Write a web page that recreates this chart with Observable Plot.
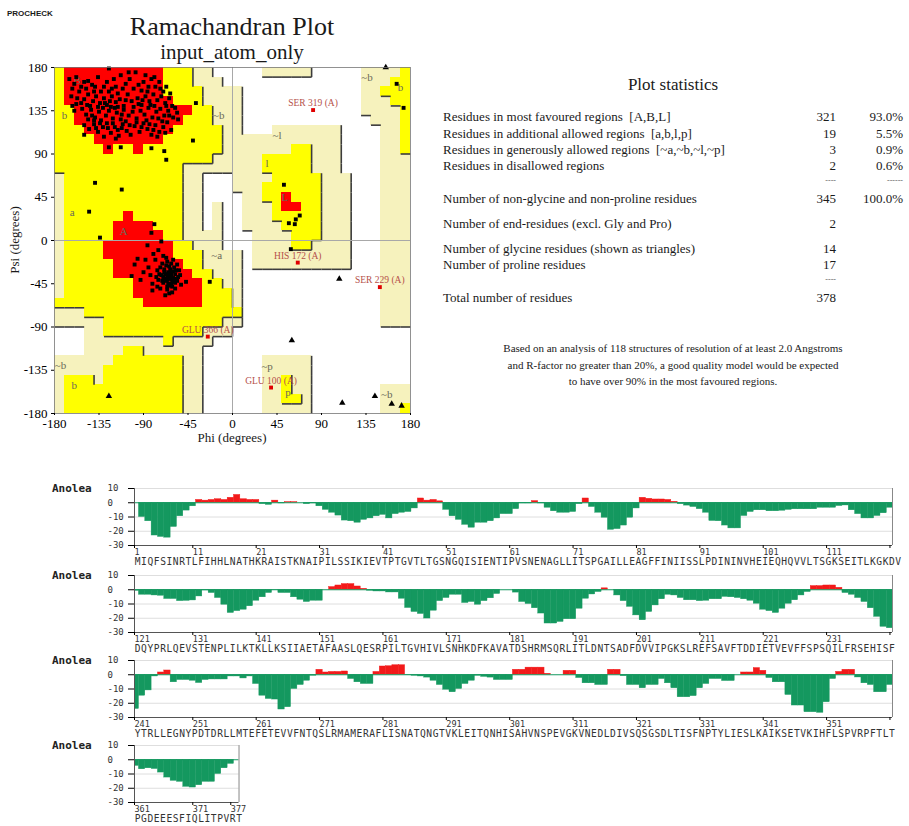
<!DOCTYPE html>
<html><head><meta charset="utf-8">
<script src="https://cdn.jsdelivr.net/npm/d3@7"></script>
<script src="https://cdn.jsdelivr.net/npm/@observablehq/plot@0.6"></script>
<style>
body{margin:0;background:#fff;}
#root{position:relative;width:909px;height:826px;overflow:hidden;background:#fff;}
.layer{position:absolute;}
</style></head><body><div id="root"></div>
<script>
// ---------------- Ramachandran data ----------------
// region grid: rows psi 170..180 (top) down to -180..-170, cols phi -180..170 (step 10)
// R core, Y allowed, P generously allowed, . disallowed
const ramaGrid = [
"YRRRRRRRRRRYYYPP.....PPPPP.....PPPPY",
"YRRRRRRRRRRYYYPPP..............PPPYY",
"YRRRRRRRRRRYYYYPPPP............PPYYY",
"YRRRRRRRRRRRYYYPPPP............PPPYY",
"YYRRRRRRRRRRRRYYPPP............PPPPY",
"YYRRRRRRRRRRRYYYPPP.............PPPY",
"YYYRRRRRRRRRYYYYYPP...PPPPPPP....PPY",
"YYYYRRRRRRRYYYYYYPPPPPPPPPPPP....PPY",
"YYYYYRYYRYYYYYYYYPPPPPPPYYPPP....PPY",
"YYYYYYYYYYYYYYYYPPPPPYYYYYPPP....PPP",
"YYYYYYYYYYYYYPPPPPPPPYYYYYPPP....PPP",
"PYYYYYYYYYYYYPP...PPPPYYYYYPPP...PPP",
"PYYYYYYYYYYYYPP...PPPYYYYYYPPP...PPP",
"PYYYYYYYYYYYYPP....PPYYRYYYPPP...PPP",
"PYYYYYYYYYYYYPP.P..PPPYRRYYPPP...PPP",
"PYYYYYYRYYYYYPP.P..PPPYYYYYPPP...PPP",
"PYYYYYRRRRYYYPP.P..PPPPYYYYPPP...PPP",
"PYYYYYRRRRRYYPPPP...PPPPYYYPPP...PPP",
"PYYYYRRRRRRRYYPPP...PPPPYYPPPP...PPP",
"PYYYYRRRRRRRYYYPPPP.PPPPPPPPPP...PPP",
"PYYYYYRRRRRRRYYPPPP.PPPPPPPPPP...PPP",
"PYYYYYRRRRRRRRYYPPP..............PPP",
"PYYYYYYYRRRRRRRYYPP..............PPP",
"PYYYYYYYRRRRRRRYYYP..............PPP",
"YYYYYYYYYRRRRRRYYYP..............PPP",
"PPPYYYYYYYYYYYYYYYY..............PPP",
"PPPPPYYYYYYYYYYYYPP..............PPP",
"...PPYYYYYYYYYYPPP..................",
"...PPPPPPPPYPPPP....................",
"...PPPPYYPPPPPP.....................",
"PPPPPPYYYYYYYPP......PPPPP..........",
"PPPPPYYYYYYYYPP......PPPPP..........",
"PYYYPYYYYYYYYPP......PPYPP..........",
"PYYYYYYYYYYYYPP......PPYPP.......PPP",
"PYYYYYYYYYYYYPP......PPYYP.......PPP",
"PYYYYYYYYYYYYPP......PPPPP.......PPY"
];
const regionColors = {R: "#ff0000", Y: "#ffff00", P: "#f6f2bd"};

// non-glycine residues [phi, psi]
const ramaResidues = [
[-165,168],[-160,163],[-158,170],[-150,165],[-148,158],[-142,162],[-136,170],[-130,160],[-125,155],[-120,168],
[-113,172],[-108,163],[-104,168],[-98,175],[-95,162],[-88,172],[-82,168],[-78,160],[-74,165],[-92,156],
[-100,158],[-118,160],[-140,155],[-155,155],
[-163,150],[-157,148],[-150,147],[-146,152],[-141,145],[-138,150],[-134,143],[-130,148],[-127,141],[-122,150],
[-118,144],[-114,147],[-110,140],[-106,152],[-102,145],[-96,148],[-92,141],[-88,150],[-84,145],[-80,152],
[-76,146],[-72,150],[-68,143],[-64,148],[-61,140],[-70,155],[-86,155],[-108,146],[-124,145],[-144,140],
[-160,135],[-152,137],[-148,131],[-143,136],[-139,128],[-135,134],[-131,138],[-128,130],[-125,135],[-121,127],
[-117,133],[-113,126],[-110,136],[-105,130],[-101,134],[-97,127],[-93,135],[-89,131],[-85,138],[-81,128],
[-77,134],[-73,137],[-69,130],[-65,135],[-60,128],[-56,133],[-133,125],[-119,138],[-140,125],[-87,125],
[-150,120],[-145,116],[-140,121],[-136,113],[-131,118],[-127,122],[-123,112],[-119,118],[-115,109],[-111,121],
[-107,114],[-103,110],[-99,119],[-94,113],[-90,122],[-86,116],[-82,110],[-78,120],[-74,113],[-70,118],
[-66,123],[-62,115],[-130,108],[-118,106],
[-162,158],[-153,160],[-146,166],[-139,160],[-133,155],[-127,165],[-122,158],[-116,153],[-111,158],[-105,175],
[-90,165],[-85,160],[-79,170],[-73,158],[-67,160],[-63,153],[-158,142],[-153,143],[-147,141],[-136,139],
[-129,143],[-123,139],[-116,139],[-112,131],[-108,124],[-100,139],[-95,142],[-91,146],[-83,141],[-79,140],
[-75,127],[-71,124],[-67,140],[-58,138],[-55,126],[-146,126],[-142,130],[-138,117],[-134,122],[-126,117],
[-121,122],[-116,115],[-112,117],[-104,120],[-97,123],[-92,118],[-84,121],[-80,115],[-76,108],[-68,112],
[-64,130],
[-82,8],[-79,17],[-72,-1],[-86,-5],[-80,-14],[-96,-19],[-102,-37],[-93,-41],[-81,-45],[-81,-52],
[-47,-43],[-61,-54],[-90,-33],[-76,-31],[-71,-24],[-66,-22],[-59,-28],[-54,-31],[-53,-36],[-56,-42],
[-63,-47],[-66,-48],[-75,-41],[-68,-35],[-66,-38],[-64,-40],[-62,-36],[-60,-39],[-65,-33],[-63,-30],
[-61,-43],[-67,-42],[-70,-38],[-58,-35],[-57,-40],[-62,-45],[-65,-45],[-69,-30],[-72,-36],[-60,-32],
[-64,-27],[-67,-26],[-58,-44],[-55,-38],[-61,-48],[-66,-51],[-70,-44],[-73,-28],[-62,-33],[-64,-35],
[-66,-41],[-59,-42],[-63,-38],[-65,-36],[-61,-40],[-68,-40],[-69,-33],[-57,-31],[-71,-42],[-74,-35],
[-77,-38],[-85,-28],[-88,-20],[-78,-20],[-70,-16],[-60,-20],[-56,-25],[-52,-46],[-58,-50],[-64,-55],
[-76,-48],[-83,-36],[-99,-25],[-73,-50],[-68,-57],[-62,-24],[-67,-18],[-75,-10],
[-125,179],[-162,140],[-150,110],[-37,143],[-40,104],[-125,97],[-113,97],[-82,96],[-69,93],[-67,84],
[-139,60],[-112,53],[-145,30],[-134,3],[-23,-43],[166,163],[173,138],[52,58],[68,26],[64,22],
[57,18],[63,17],[59,-9]
];
// glycine residues (triangles)
const ramaGlycines = [[155,180],[108,-40],[60,-104],[-125,-162],[111,-169],[144,-162],[161,-170],[171,-172]];
// flagged residues
const flaggedNames = ["SER 319 (A)","HIS 172 (A)","SER 229 (A)","GLU 366 (A)","GLU 100 (A)"];
const flaggedPhi = [81.5, 66, 149, -25, 39];
const flaggedPsi = [135.7, -23, -48.5, -100, -153];
// region letters
const regionLabelText = ["B","b","~b","~l","l","L","a","A","~a","~b","b","~p","p","~b","~b","b"];
const regionLabelPhi  = [-157,-170,-14,45,35,53,-162,-110,-16,-174,-160,35,56,156,136,170];
const regionLabelPsi  = [166,130,130,109,80,45,29,9,-16,-130,-151,-131,-158,-160,170,159];
const ramaTicks = [-180,-135,-90,-45,0,45,90,135,180];

// ---------------- Statistics ----------------
const statLabels = [
"Residues in most favoured regions  [A,B,L]",
"Residues in additional allowed regions  [a,b,l,p]",
"Residues in generously allowed regions  [~a,~b,~l,~p]",
"Residues in disallowed regions",
"",
"Number of non-glycine and non-proline residues",
"Number of end-residues (excl. Gly and Pro)",
"Number of glycine residues (shown as triangles)",
"Number of proline residues",
"",
"Total number of residues"];
const statCounts = ["321","19","3","2","----","345","2","14","17","----","378"];
const statPercents = ["93.0%","5.5%","0.9%","0.6%","------","100.0%","","","","",""];
const footnote = [
"Based on an analysis of 118 structures of resolution of at least 2.0 Angstroms",
"and R-factor no greater than 20%, a good quality model would be expected",
"to have over 90% in the most favoured regions."];

// ---------------- ANOLEA data ----------------
const anoleaRow1 = [0,0,-10,-13,-23,-24,-24.5,-17,-9.5,-5.5,-2.5,2,1.5,2,2.5,2,3.5,5.5,2.5,2,
2,-1,-1.5,1.5,-0.5,0.5,0.5,0,-1,-0.5,-2.5,-5,-7,-9,-12.5,-13,-14,-12,-11,-9.5,
-8.5,-11,-8,-7,-6.5,-4,3,1.5,2,1,-5,-9.5,-12,-15.5,-17.5,-14,-14,-13,-11,-8,
-8,-4.5,-0.5,-0.5,1.2,-0.5,-3.5,-6,-7,-7,-6.5,-1,3,-3,-7,-10.5,-19,-18.5,-16,-10.5,
-4,3.5,2.8,2.3,2.3,2,0.7,-1,-2,-3,-4.5,-7,-12.8,-13,-16,-18,-18,-9.3,-6.5,-5.3,
-5.3,-6,-6,-5.6,-5,-4.6,-4.6,-4.6,-4.6,-3.5,-3.5,-3.5,-2.3,-1.9,-5.3,-8,-11,-11,-9.3,-7.4];
const anoleaRow2 = [-3.5,-0.7,-3.5,-3.5,-4,-4.2,-6.5,-6.5,-8,-7.8,-7.5,-4.7,-0.5,-2.3,-5.8,-10.5,-16.3,-15,-14,-11.6,
-7.7,-5.3,-2.3,-0.3,-2.3,-2.3,-5.3,-7,-8.6,-7.7,-7.7,0,1.9,3,4,4,2.3,0.7,-0.7,-1.2,
-1.2,-1.9,-1.9,-6.3,-12.8,-15.6,-17,-20.2,-14.7,-8,-5.8,-3.5,-3.5,-9.3,-8.6,-10.5,-8,-6,-3,0,
0,-2,-8.6,-10,-13,-16.7,-23.7,-23.7,-22.6,-20.7,-20.7,-13.3,-6.3,-3.3,-1.6,1,0,-4,-8,-12,
-18,-21.4,-15.6,-11,-6.7,-3.5,-4,-5.8,-7.4,-7.4,-8,-7.7,-6.7,-6.7,-5,-5.3,-5.8,-6.7,-7.7,-9.8,
-14,-15,-16.3,-13.3,-9.8,-7.4,-4,-1.6,2.6,2.6,3,3,1.4,-2.3,-3.5,-5.8,-8.6,-13,-19,-26];
const anoleaRow3 = [-27,-24,-14.7,-11,-1.2,1.6,3,-5.3,-3.7,-3.7,-4.2,-5.8,-3.7,-3.3,-3.3,-3.3,-1.2,-1.2,-2.6,-1.2,
-6.5,-14.7,-17,-17.4,-24.4,-22.8,-10,-7.2,-4.2,-0.7,3.5,1.6,2,2,2.3,-3,-5.3,-6.5,-6.5,2,
5.8,6,6.7,6.7,-0.3,-0.7,-1.2,-2,-4.2,-7.2,-10.5,-12.3,-10,-6.5,-4.2,-0.7,-1.5,-2,-3.7,-3.7,
-3.7,3.5,3.5,5,5,5,0.7,0,0,2.8,2.8,-2.3,-6,-6,-7.2,-7.2,3.5,3.5,-1,-7.2,
-7.2,-9.5,-7.2,-7.2,-3,-6,-9.5,-15.8,-15.8,-15,-9.5,-6.5,-3,-3,-4.4,-4.4,0,1.6,1.6,4.7,
2.8,-2.3,-5.3,-5.3,-14.2,-21.6,-21.6,-26.3,-26.3,-26.7,-19.3,-3,2,3.5,3.5,-1.9,-6,-7.2,-12.3,-12.3];
const anoleaRow4 = [-7.2,-4.3,-6.7,-6,-6.5,-9,-12.5,-14.8,-15.5,-19,-19.5,-17.9,-15.5,-15.5,-10,-6,-2.9];
const rowStarts = [1, 121, 241, 361];
const sequences = [
"MIQFSINRTLFIHHLNATHKRAISTKNAIPILSSIKIEVTPTGVTLTGSNGQISIENTIPVSNENAGLLITSPGAILLEAGFFINIISSLPDININVHEIEQHQVVLTSGKSEITLKGKDV",
"DQYPRLQEVSTENPLILKTKLLKSIIAETAFAASLQESRPILTGVHIVLSNHKDFKAVATDSHRMSQRLITLDNTSADFDVVIPGKSLREFSAVFTDDIETVEVFFSPSQILFRSEHISF",
"YTRLLEGNYPDTDRLLMTEFETEVVFNTQSLRMAMERAFLISNATQNGTVKLEITQNHISAHVNSPEVGKVNEDLDIVSQSGSDLTISFNPTYLIESLKAIKSETVKIHFLSPVRPFTLT",
"PGDEEESFIQLITPVRT"];
const lastResidue = 377;
const anoleaTicksY = [10, 0, -10, -20, -30];

// ---------------- build ----------------
const root = document.getElementById("root");
const SERIF = "Liberation Serif, Times New Roman, serif";
const MONO = "DejaVu Sans Mono, monospace";
function place(node, left, top) {
  const d = document.createElement("div");
  d.className = "layer"; d.style.left = left + "px"; d.style.top = top + "px";
  d.appendChild(node); root.appendChild(d);
}

// Ramachandran
const rank = {".": 0, P: 1, Y: 2, R: 3};
const cells = [], edges = [];
ramaGrid.forEach((row, r) => {
  for (let c = 0; c < 36; c++) {
    const k = row[c] || ".";
    const phi = -180 + c * 10, psi = 170 - r * 10;
    if (k !== ".") cells.push({phi, psi, k});
    const rk = rank[k];
    if (rk === 1 || rk === 2) {
      if (c < 35 && rank[row[c + 1] || "."] < rk) edges.push({x1: phi + 10, x2: phi + 10, y1: psi, y2: psi + 10});
      if (r < 35 && rank[ramaGrid[r + 1][c] || "."] < rk) edges.push({x1: phi, x2: phi + 10, y1: psi, y2: psi});
    }
  }
});
const flagged = flaggedNames.map((n, i) => ({n, phi: flaggedPhi[i], psi: flaggedPsi[i]}));
const regionLabels = regionLabelText.map((t, i) => ({t, phi: regionLabelPhi[i], psi: regionLabelPsi[i]}));

const rama = Plot.plot({
  width: 420, height: 450, marginLeft: 54, marginRight: 10, marginTop: 67, marginBottom: 37,
  x: {domain: [-180, 180], label: null},
  y: {domain: [-180, 180], label: null},
  color: {type: "identity"},
  style: {background: "transparent", overflow: "visible", fontFamily: SERIF},
  marks: [
    Plot.rect(cells, {x1: "phi", x2: d => d.phi + 10, y1: "psi", y2: d => d.psi + 10, fill: d => regionColors[d.k], shapeRendering: "crispEdges"}),
    Plot.link(edges, {x1: "x1", y1: "y1", x2: "x2", y2: "y2", stroke: "#3c3c3c", strokeWidth: 1.6}),
    Plot.ruleX([0], {stroke: "#a8a8a8"}),
    Plot.ruleY([0], {stroke: "#a8a8a8"}),
    Plot.text(regionLabels, {x: "phi", y: "psi", text: "t", fontSize: 11, fill: "#6a6a5a"}),
    Plot.dot(ramaResidues, {x: d => d[0], y: d => d[1], symbol: "square", r: 2.2, fill: "#000"}),
    Plot.dot(ramaGlycines, {x: d => d[0], y: d => d[1], symbol: "triangle", r: 2.4, fill: "#000"}),
    Plot.dot(flagged, {x: "phi", y: "psi", symbol: "square", r: 2.2, fill: "#e00000"}),
    Plot.text(flagged, {x: "phi", y: "psi", text: "n", dy: -7, fontSize: 9.5, fill: "#b5504a"}),
    Plot.frame({stroke: "#777", strokeWidth: 0.8}),
    Plot.axisX(ramaTicks, {tickFormat: d => String(d), tickSize: 2, tickPadding: 3, fontSize: 13, label: null}),
    Plot.axisY(ramaTicks, {tickFormat: d => String(d), tickSize: 3, tickPadding: 4, fontSize: 13, label: null})
  ]
});
place(rama, 0, 0);

// ANOLEA rows
const allValues = [...anoleaRow1, ...anoleaRow2, ...anoleaRow3, ...anoleaRow4];
const GREEN = "#14985f", RED = "#f21a1a";
const frameTops = [488, 575, 660, 745];
rowStarts.forEach((s, k) => {
  const last = k === 3;
  const end = last ? lastResidue + 1.3 : s + 120.4;
  const start = s + 0.8;
  const bars = [];
  for (let i = s; i <= Math.min(lastResidue, Math.ceil(end)); i++) bars.push({i, v: allValues[i - 1]});
  const tickVals = [start];
  const tickText = new Map([[start, String(s)]]);
  if (last) { tickVals.push(s + 10, lastResidue); tickText.set(s + 10, String(s + 10)); tickText.set(lastResidue, String(lastResidue)); }
  else { for (let t = 10; t <= 110; t += 10) { tickVals.push(s + t); tickText.set(s + t, String(s + t)); } tickVals.push(s + 120); tickText.set(s + 120, ""); }
  const chars = Array.from(sequences[k]).map((ch, i) => ({ch, x: start + i + 0.5}));
  const pxPerRes = 6.335;
  const frameW = (end - start) * pxPerRes;
  const width = last ? Math.round(134 + frameW + 20) : 909;
  const marginRight = last ? width - 134 - frameW : 17;
  const chart = Plot.plot({
    width, height: 93, marginLeft: 134, marginRight, marginTop: 8, marginBottom: 28,
    x: {domain: [start, end], label: null},
    y: {domain: [-30, 10], label: null},
    color: {type: "identity"},
    style: {background: "transparent", overflow: "visible", fontFamily: MONO},
    marks: [
      Plot.ruleY([10, -10, -20], {stroke: "#dedede"}),
      Plot.rect(bars, {x1: d => d.i - 0.5, x2: d => d.i + 0.5, y1: 0, y2: "v", fill: d => d.v >= 0 ? RED : GREEN, stroke: d => d.v >= 0 ? RED : GREEN, strokeWidth: 0.4, clip: true}),
      Plot.ruleY([0], {stroke: GREEN, strokeWidth: 1}),
      Plot.ruleX([start], {stroke: "#555"}),
      Plot.ruleX([end], {stroke: "#888"}),
      Plot.ruleY([-30], {stroke: "#555"}),
      Plot.axisY(anoleaTicksY, {tickFormat: () => "", tickSize: 6, label: null}),
      Plot.text(anoleaTicksY, {y: d => d, text: d => String(d), frameAnchor: "left", dx: -27, textAnchor: "start", fontSize: 9, fill: "#333"}),
      Plot.axisX(tickVals, {tickFormat: d => tickText.get(d) ?? "", tickSize: 3, tickPadding: 0.5, textAnchor: "start", fontSize: 8.5, fill: "#333", label: null}),
      Plot.text(chars, {x: "x", text: "ch", frameAnchor: "bottom", dy: 19.5, fontSize: 9.6, fill: "#333"})
    ]
  });
  place(chart, 0, frameTops[k] - 8);
});

// text overlay
const ov = d3.create("svg").attr("width", 909).attr("height", 826)
  .style("position", "absolute").style("left", "0px").style("top", "0px").style("overflow", "visible");
function txt(x, y, s, opts = {}) {
  const t = ov.append("text").attr("x", x).attr("y", y).text(s)
    .attr("font-family", opts.family || SERIF).attr("font-size", opts.size || 13)
    .attr("fill", opts.fill || "#1a1a1a").attr("text-anchor", opts.anchor || "start")
    .style("white-space", "pre");
  if (opts.weight) t.attr("font-weight", opts.weight);
  if (opts.transform) t.attr("transform", opts.transform);
  return t;
}
txt(7, 15.5, "PROCHECK", {family: "Liberation Sans, Arial, sans-serif", size: 8, weight: "bold"});
txt(232, 35, "Ramachandran Plot", {size: 26, anchor: "middle"});
txt(232, 59, "input_atom_only", {size: 21, anchor: "middle"});
txt(232, 442, "Phi (degrees)", {size: 13, anchor: "middle"});
txt(0, 0, "Psi (degrees)", {size: 13, anchor: "middle", transform: "translate(19,240) rotate(-90)"});
txt(673, 90, "Plot statistics", {size: 17, anchor: "middle"});
const statBase = [121, 137.7, 153.7, 170.3, 187, 202.7, 227.7, 252.7, 269.3, 286, 301.7];
statLabels.forEach((s, i) => {
  if (s) txt(443, statBase[i], s, {size: 13});
  const dash = statCounts[i].startsWith("-");
  txt(836, statBase[i] - (dash ? 4 : 0), statCounts[i], {size: dash ? 8 : 13, anchor: "end", fill: dash ? "#666" : "#1a1a1a"});
  if (statPercents[i]) {
    const dp = statPercents[i].startsWith("-");
    txt(903, statBase[i] - (dp ? 4 : 0), statPercents[i], {size: dp ? 8 : 13, anchor: "end", fill: dp ? "#666" : "#1a1a1a"});
  }
});
footnote.forEach((s, i) => txt(673, 352 + i * 16.7, s, {size: 11, anchor: "middle"}));
frameTops.forEach(y => txt(52, y + 4, "Anolea", {family: MONO, size: 11, weight: "bold", fill: "#222"}));
root.appendChild(ov.node());
</script></body></html>
